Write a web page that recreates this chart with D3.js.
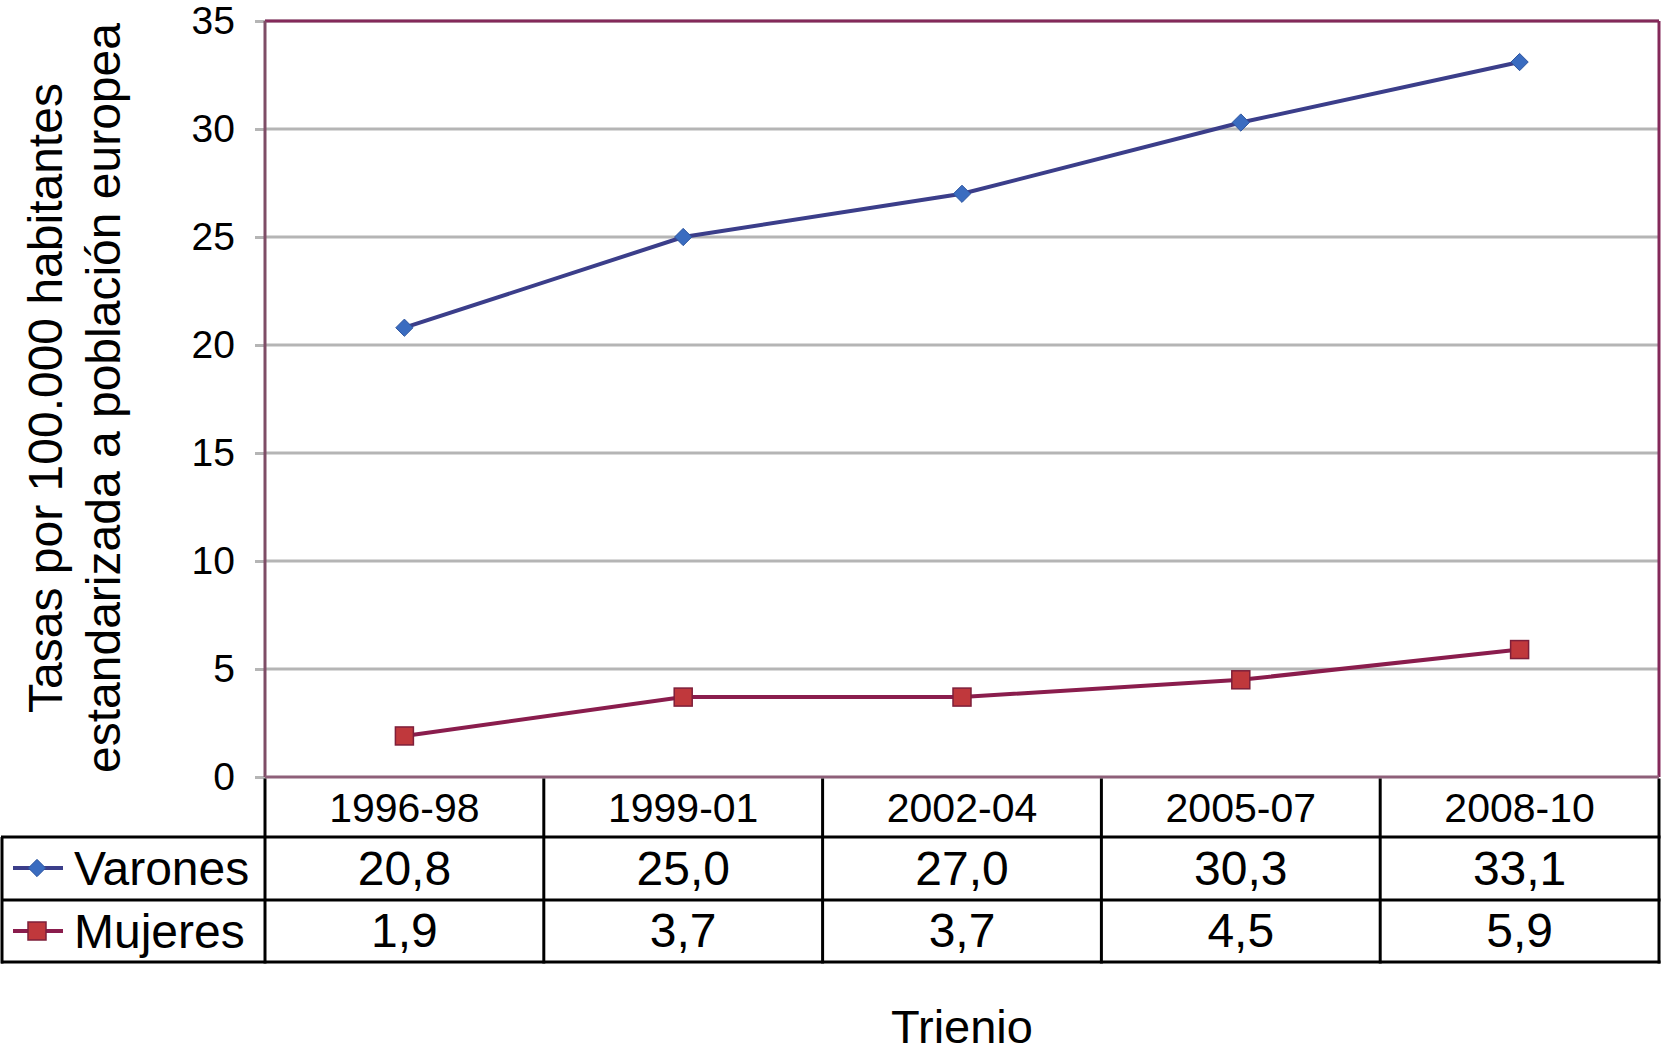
<!DOCTYPE html>
<html>
<head>
<meta charset="utf-8">
<script src="https://cdn.jsdelivr.net/npm/d3@7"></script>
<style>
  body { margin: 0; background: #fff; }
  svg { display: block; font-family: "Liberation Sans", Arial, Helvetica, sans-serif; }
</style>
</head>
<body>
<div id="chart"></div>
<script>
// Data
const trienios = ['1996-98', '1999-01', '2002-04', '2005-07', '2008-10'];
const varones = [20.8, 25.0, 27.0, 30.3, 33.1];
const mujeres = [1.9, 3.7, 3.7, 4.5, 5.9];
const seriesNames = ['Varones', 'Mujeres'];
const yTicks = [0, 5, 10, 15, 20, 25, 30, 35];

const W = 1664, H = 1055;
const plot = { left: 265, right: 1659, top: 21, bottom: 777 };
const rowLines = [837, 900, 962];

const svg = d3.select('#chart').append('svg')
  .attr('width', W).attr('height', H);

const x = d3.scaleBand().domain(trienios).range([plot.left, plot.right]).padding(0);
const y = d3.scaleLinear().domain([0, 35]).range([plot.bottom, plot.top]);

const locale = d3.formatLocale({ decimal: ',', thousands: '.', grouping: [3], currency: ['', '€'] });
const fmt = locale.format('.1f');

// Gridlines
svg.append('g')
  .selectAll('line')
  .data(yTicks.filter(d => d > 0))
  .enter().append('line')
  .attr('x1', plot.left).attr('x2', plot.right)
  .attr('y1', d => y(d)).attr('y2', d => y(d))
  .attr('stroke', '#b5b5b5').attr('stroke-width', 3);

// Y axis
const yAxis = svg.append('g')
  .attr('transform', `translate(${plot.left},0)`)
  .call(d3.axisLeft(y).tickValues(yTicks).tickSize(10).tickPadding(20));
yAxis.select('.domain').remove();
yAxis.selectAll('.tick line').attr('stroke', '#b5b5b5').attr('stroke-width', 3);
yAxis.selectAll('.tick text')
  .attr('fill', '#000')
  .style('font-size', '39px')
  .style('font-family', '"Liberation Sans", Arial, sans-serif');

// Plot border
svg.append('line').attr('x1', plot.left).attr('x2', plot.right).attr('y1', plot.top).attr('y2', plot.top)
  .attr('stroke', '#84295a').attr('stroke-width', 3);
svg.append('line').attr('x1', plot.right).attr('x2', plot.right).attr('y1', plot.top).attr('y2', plot.bottom)
  .attr('stroke', '#84295a').attr('stroke-width', 3);
svg.append('line').attr('x1', plot.left).attr('x2', plot.left).attr('y1', plot.top).attr('y2', plot.bottom)
  .attr('stroke', '#7e4d66').attr('stroke-width', 3);
svg.append('line').attr('x1', plot.left).attr('x2', plot.right).attr('y1', plot.bottom).attr('y2', plot.bottom)
  .attr('stroke', '#8e6079').attr('stroke-width', 3);

// Y axis title
const yTitle = svg.append('text')
  .attr('transform', `translate(62,398) rotate(-90)`)
  .attr('text-anchor', 'middle')
  .style('font-size', '48px');
yTitle.append('tspan').attr('x', 0).attr('y', 0).text('Tasas por 100.000 habitantes');
yTitle.append('tspan').attr('x', 0).attr('y', 58).text('estandarizada a población europea');

// Lines and markers
const cx = d => x(d) + x.bandwidth() / 2;
const line = d3.line().x((d, i) => cx(trienios[i])).y(d => y(d));

svg.append('path').datum(varones)
  .attr('d', line).attr('fill', 'none')
  .attr('stroke', '#3b3e8a').attr('stroke-width', 4);
svg.append('path').datum(mujeres)
  .attr('d', line).attr('fill', 'none')
  .attr('stroke', '#8a1d4d').attr('stroke-width', 4);

const diamond = d3.symbol().type(d3.symbolDiamond2).size(190);
svg.selectAll('.mv').data(varones).enter().append('path')
  .attr('class', 'mv')
  .attr('d', diamond)
  .attr('transform', (d, i) => `translate(${cx(trienios[i])},${y(d)})`)
  .attr('fill', '#3a6cc0').attr('stroke', '#2f56a0').attr('stroke-width', 1);

svg.selectAll('.mm').data(mujeres).enter().append('rect')
  .attr('class', 'mm')
  .attr('x', (d, i) => cx(trienios[i]) - 9)
  .attr('y', d => y(d) - 9)
  .attr('width', 18).attr('height', 18)
  .attr('fill', '#c0383c').attr('stroke', '#7e1f3a').attr('stroke-width', 1.5);

// Data table
const table = svg.append('g').attr('stroke', '#000').attr('stroke-width', 3);
rowLines.forEach(ry => {
  table.append('line').attr('x1', 1).attr('x2', plot.right + 1.5).attr('y1', ry).attr('y2', ry);
});
table.append('line').attr('x1', 2).attr('x2', 2).attr('y1', rowLines[0]).attr('y2', rowLines[2] + 1.5);
const bounds = trienios.map(t => x(t)).concat([plot.right]);
bounds.forEach(bx => {
  table.append('line').attr('x1', bx).attr('x2', bx).attr('y1', plot.bottom + 1.5).attr('y2', rowLines[2] + 1.5);
});

// Header labels
svg.selectAll('.cat').data(trienios).enter().append('text')
  .attr('class', 'cat')
  .attr('x', d => cx(d))
  .attr('y', 822)
  .attr('text-anchor', 'middle')
  .style('font-size', '41px')
  .text(d => d);

// Row values
[varones, mujeres].forEach((vals, r) => {
  const base = r === 0 ? 885 : 947;
  svg.selectAll('.val' + r).data(vals).enter().append('text')
    .attr('class', 'val' + r)
    .attr('x', (d, i) => cx(trienios[i]))
    .attr('y', base)
    .attr('text-anchor', 'middle')
    .style('font-size', '48px')
    .text(d => fmt(d));
});

// Legend keys in the table
const legendRows = [
  { name: seriesNames[0], color: '#3b3e8a', y: 868 },
  { name: seriesNames[1], color: '#8a1d4d', y: 931 }
];
legendRows.forEach((lr, i) => {
  svg.append('line')
    .attr('x1', 13).attr('x2', 63).attr('y1', lr.y).attr('y2', lr.y)
    .attr('stroke', lr.color).attr('stroke-width', 4);
  if (i === 0) {
    svg.append('path').attr('d', diamond)
      .attr('transform', `translate(37,${lr.y})`)
      .attr('fill', '#3a6cc0').attr('stroke', '#2f56a0').attr('stroke-width', 1);
  } else {
    svg.append('rect').attr('x', 28).attr('y', lr.y - 9).attr('width', 18).attr('height', 18)
      .attr('fill', '#c0383c').attr('stroke', '#7e1f3a').attr('stroke-width', 1.5);
  }
  svg.append('text')
    .attr('x', 74).attr('y', lr.y + 17)
    .style('font-size', '48px')
    .text(lr.name);
});

// X axis title
svg.append('text')
  .attr('x', (plot.left + plot.right) / 2)
  .attr('y', 1043)
  .attr('text-anchor', 'middle')
  .style('font-size', '47px')
  .text('Trienio');
</script>
</body>
</html>
